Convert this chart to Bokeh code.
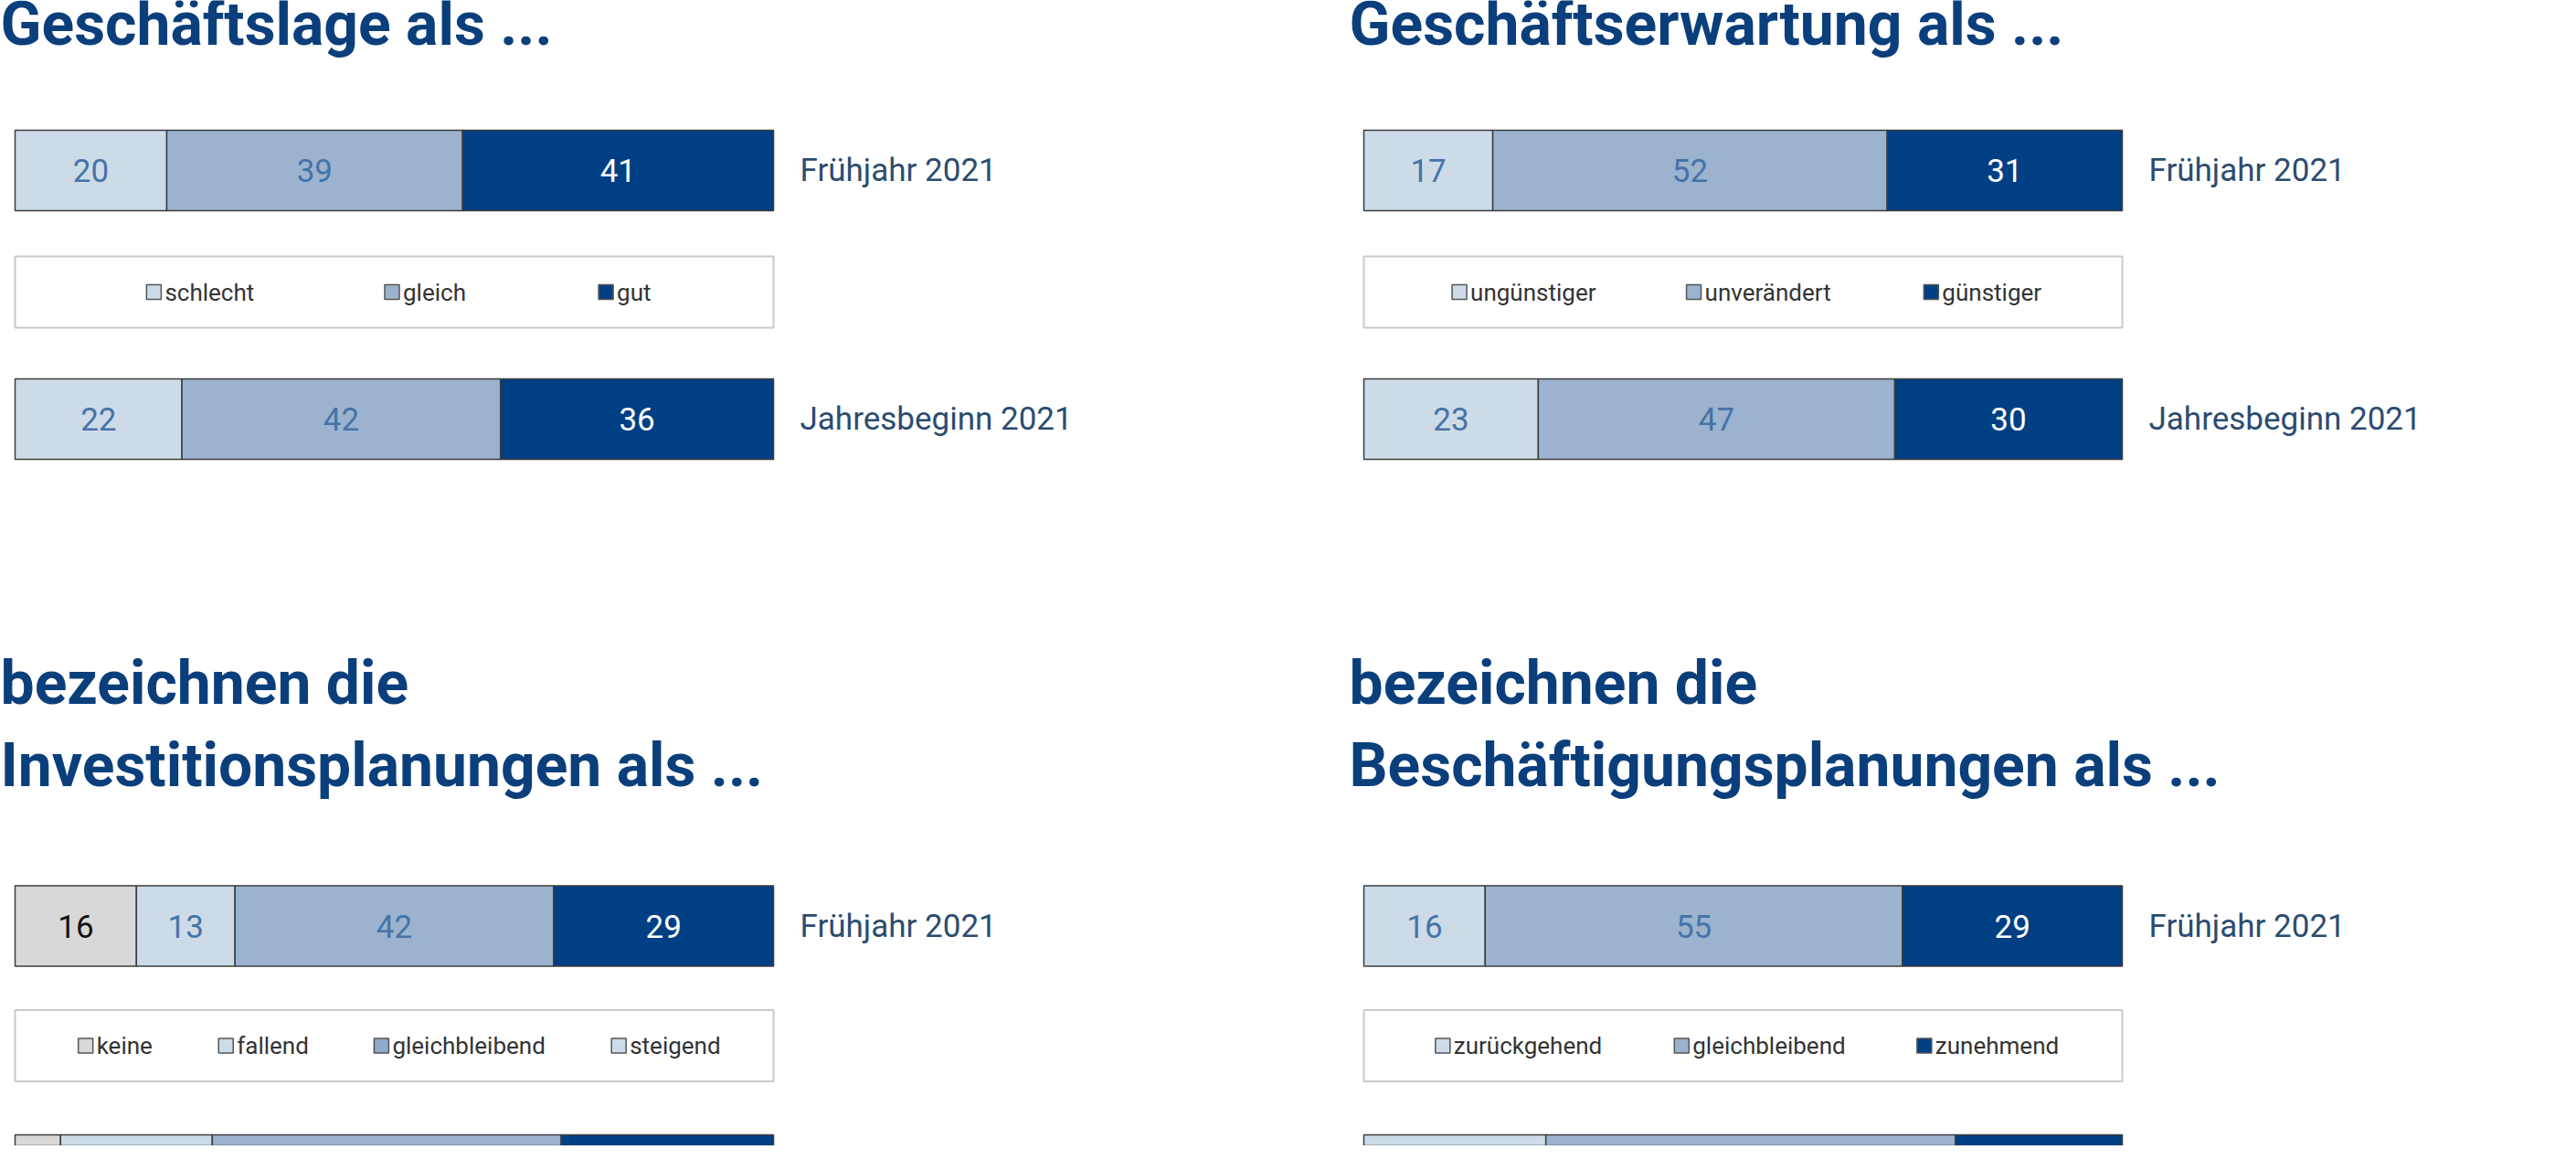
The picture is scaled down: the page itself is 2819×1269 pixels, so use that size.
import numpy as np
from bokeh.plotting import figure
from bokeh.layouts import column, row
from bokeh.models import Range1d, ColumnDataSource
from bokeh.core.properties import value
from bokeh.embed import file_html
from bokeh.resources import INLINE

# ---------------- data ----------------
rows = ["Frühjahr 2021", "Jahresbeginn 2021"]

lage_title = ["Geschäftslage als ..."]
lage_cats = ["schlecht", "gleich", "gut"]
lage_fj = [20, 39, 41]
lage_jb = [22, 42, 36]

erw_title = ["Geschäftserwartung als ..."]
erw_cats = ["ungünstiger", "unverändert", "günstiger"]
erw_fj = [17, 52, 31]
erw_jb = [23, 47, 30]

inv_title = ["bezeichnen die", "Investitionsplanungen als ..."]
inv_cats = ["keine", "fallend", "gleichbleibend", "steigend"]
inv_fj = [16, 13, 42, 29]
inv_jb = [6, 20, 46, 28]

besch_title = ["bezeichnen die", "Beschäftigungsplanungen als ..."]
besch_cats = ["zurückgehend", "gleichbleibend", "zunehmend"]
besch_fj = [16, 55, 29]
besch_jb = [24, 54, 22]

# ---------------- styles ----------------
LIGHT = "#cddbe9"
MID = "#9bb3cf"
DARK = "#003f84"
GRAY = "#d8d8d8"
NUM_BLUE = "#4673a6"
TITLE_C = "#0b3f7c"
ROWLAB_C = "#2b4c70"
FONT = value("Roboto")

PX_PER_UNIT = 8.3
X0 = -16 / PX_PER_UNIT


def panel(width, height, titles, title_base, cats, fj, jb, fills, num_colors,
          leg_fills, leg_x, bar_c, leg_c):
    p = figure(width=width, height=height, output_backend="svg",
               toolbar_location=None, min_border=0,
               x_range=Range1d(X0, X0 + width / PX_PER_UNIT),
               y_range=Range1d(height, 0))
    p.axis.visible = False
    p.grid.visible = False
    p.outline_line_color = None
    p.background_fill_color = "white"
    p.border_fill_color = "white"

    # title
    p.text(x=[X0] * len(titles), y=title_base, text=titles,
           text_font=FONT, text_font_size="66px", text_font_style="bold",
           text_color=TITLE_C, text_baseline="alphabetic", text_align="left")

    # legend box
    p.quad(left=[0], right=[100], top=[leg_c - 39], bottom=[leg_c + 39],
           fill_color="white", line_color="#c9c9c9", line_width=2)
    p.scatter(x=leg_x, y=[leg_c] * len(cats), marker="square", size=16,
              fill_color=leg_fills, line_color="#555555", line_width=1.5)
    p.text(x=leg_x, y=[leg_c] * len(cats), text=cats, x_offset=12,
           text_font=FONT, text_font_size="26px", text_color="#333333",
           text_baseline="middle", text_align="left")

    for vals, yc, lab in zip([fj, jb], bar_c, rows):
        v = np.array(vals, dtype=float)
        right = np.cumsum(v)
        left = right - v
        src = ColumnDataSource(dict(left=left, right=right,
                                    y=[yc] * len(v), fill=fills,
                                    mid=(left + right) / 2,
                                    txt=[str(int(a)) for a in v],
                                    tc=num_colors))
        p.hbar(y="y", left="left", right="right", height=88, source=src,
               fill_color="fill", line_color="#3c3c3c", line_width=1.5)
        if yc + 20 < height:
            p.text(x="mid", y="y", text="txt", source=src, text_color="tc",
                   text_font=FONT, text_font_size="35px",
                   text_baseline="middle", text_align="center")
            p.text(x=[100], y=[yc], text=[lab], x_offset=29,
                   text_font=FONT, text_font_size="35px", text_color=ROWLAB_C,
                   text_baseline="middle", text_align="left")
    return p


W_L, W_R = 1476, 1327
H_T, H_B = 592, 661

p1 = panel(W_L, H_T, lage_title, [26], lage_cats, lage_fj, lage_jb,
           [LIGHT, MID, DARK], [NUM_BLUE, NUM_BLUE, "white"],
           [LIGHT, MID, DARK], [18.3, 49.7, 77.9], [186, 458], 319)
p2 = panel(W_R, H_T, erw_title, [26], erw_cats, erw_fj, erw_jb,
           [LIGHT, MID, DARK], [NUM_BLUE, NUM_BLUE, "white"],
           [LIGHT, MID, DARK], [12.6, 43.5, 74.8], [186, 458], 319)
p3 = panel(W_L, H_B, inv_title, [155, 245], inv_cats, inv_fj, inv_jb,
           [GRAY, LIGHT, MID, DARK], ["#111111", NUM_BLUE, NUM_BLUE, "white"],
           [GRAY, LIGHT, "#8fa9cb", LIGHT], [9.3, 27.8, 48.3, 79.6],
           [420.5, 693], 551.5)
p4 = panel(W_R, H_B, besch_title, [155, 245], besch_cats, besch_fj, besch_jb,
           [LIGHT, MID, DARK], [NUM_BLUE, NUM_BLUE, "white"],
           [LIGHT, MID, DARK], [10.4, 41.9, 73.9], [420.5, 693], 551.5)

layout = column(row(p1, p2), row(p3, p4))
open("out.html", "w").write(file_html(layout, INLINE))
